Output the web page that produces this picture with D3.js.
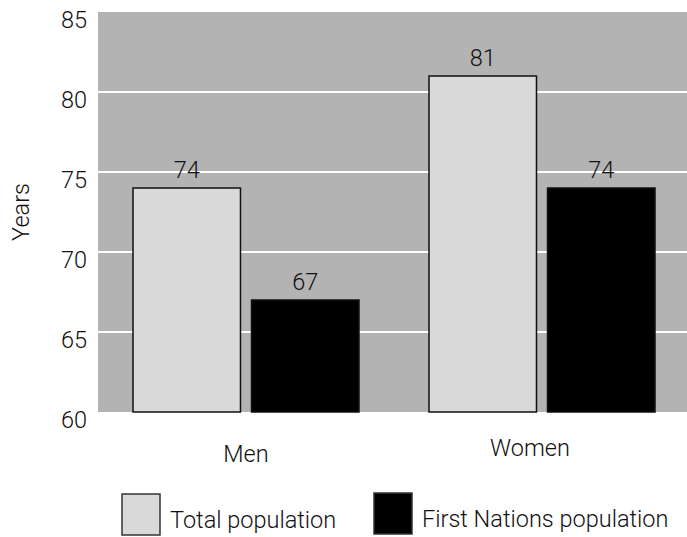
<!DOCTYPE html>
<html>
<head>
<meta charset="utf-8">
<script src="https://cdn.jsdelivr.net/npm/d3@7"></script>
<style>
  html, body { margin: 0; padding: 0; background: #fff; }
  svg text { font-family: Roboto, "DejaVu Sans Condensed", sans-serif; font-weight: 300; fill: #111; }
</style>
</head>
<body>
<svg id="chart" width="687" height="537"></svg>
<script>
// Life expectancy at birth, in years
const groups = ["Men", "Women"];
const series = ["Total population", "First Nations population"];
const totalPopulation = [74, 81];
const firstNationsPopulation = [67, 74];
const yTicks = [60, 65, 70, 75, 80, 85];
const seriesColors = ["#d9d9d9", "#000000"];

const rows = groups.map((g, i) => ({
  group: g,
  values: [
    { key: series[0], value: totalPopulation[i] },
    { key: series[1], value: firstNationsPopulation[i] }
  ]
}));

const svg = d3.select("#chart");
const plot = { left: 98, right: 687, top: 12, bottom: 412 };
const fontSize = 23.5;

const y = d3.scaleLinear().domain([60, 85]).range([plot.bottom, plot.top]);
const x0 = d3.scaleBand().domain(groups).range([133, 655]).paddingInner(0.2365).paddingOuter(0);
const x1 = d3.scaleBand().domain(series).range([0, x0.bandwidth()]).paddingInner(0.093).paddingOuter(0);
const color = d3.scaleOrdinal().domain(series).range(seriesColors);

// plot background
svg.append("rect")
  .attr("x", plot.left).attr("y", plot.top)
  .attr("width", plot.right - plot.left).attr("height", plot.bottom - plot.top)
  .attr("fill", "#b3b3b3");

// y axis labels (sitting just below each gridline)
const yAxis = d3.axisLeft(y).tickValues(yTicks).tickSize(0).tickPadding(11);
const gAxis = svg.append("g").attr("transform", `translate(${plot.left},0)`).call(yAxis);
gAxis.select(".domain").remove();
gAxis.attr("font-family", null).attr("font-size", null);
gAxis.selectAll("text").attr("font-size", fontSize).attr("dy", 15).attr("fill", "#111");

// white gridlines
svg.append("g").selectAll("line")
  .data(yTicks.filter(t => t > 60 && t < 85))
  .join("line")
  .attr("x1", plot.left).attr("x2", plot.right)
  .attr("y1", d => y(d)).attr("y2", d => y(d))
  .attr("stroke", "#fff").attr("stroke-width", 2);

// bars
const gGroups = svg.append("g").selectAll("g")
  .data(rows).join("g")
  .attr("transform", d => `translate(${x0(d.group)},0)`);

gGroups.selectAll("rect")
  .data(d => d.values).join("rect")
  .attr("x", d => x1(d.key))
  .attr("y", d => y(d.value))
  .attr("width", x1.bandwidth())
  .attr("height", d => y(60) - y(d.value))
  .attr("fill", d => color(d.key))
  .attr("stroke", "#111").attr("stroke-width", 1.5);

gGroups.selectAll("text.value")
  .data(d => d.values).join("text")
  .attr("class", "value")
  .attr("x", d => x1(d.key) + x1.bandwidth() / 2)
  .attr("y", d => y(d.value) - 10)
  .attr("text-anchor", "middle")
  .attr("font-size", fontSize)
  .text(d => d.value);

// category labels
const labelShift = { Men: { dx: 0, y: 462 }, Women: { dx: -12, y: 456 } };
svg.append("g").selectAll("text")
  .data(groups).join("text")
  .attr("x", d => x0(d) + x0.bandwidth() / 2 + labelShift[d].dx)
  .attr("y", d => labelShift[d].y)
  .attr("text-anchor", "middle")
  .attr("font-size", fontSize)
  .text(d => d);

// y-axis title
svg.append("text")
  .attr("transform", "translate(29,212) rotate(-90)")
  .attr("text-anchor", "middle")
  .attr("font-size", fontSize)
  .text("Years");

// legend
const legendPos = [{ x: 122, y: 494 }, { x: 374, y: 493 }];
const legend = svg.append("g").selectAll("g")
  .data(series).join("g")
  .attr("transform", (d, i) => `translate(${legendPos[i].x},${legendPos[i].y})`);
legend.append("rect")
  .attr("width", 38).attr("height", 41)
  .attr("fill", d => color(d))
  .attr("stroke", "#333").attr("stroke-width", 1.5);
legend.append("text")
  .attr("x", 48).attr("y", 34)
  .attr("font-size", fontSize)
  .text(d => d);
</script>
</body>
</html>
